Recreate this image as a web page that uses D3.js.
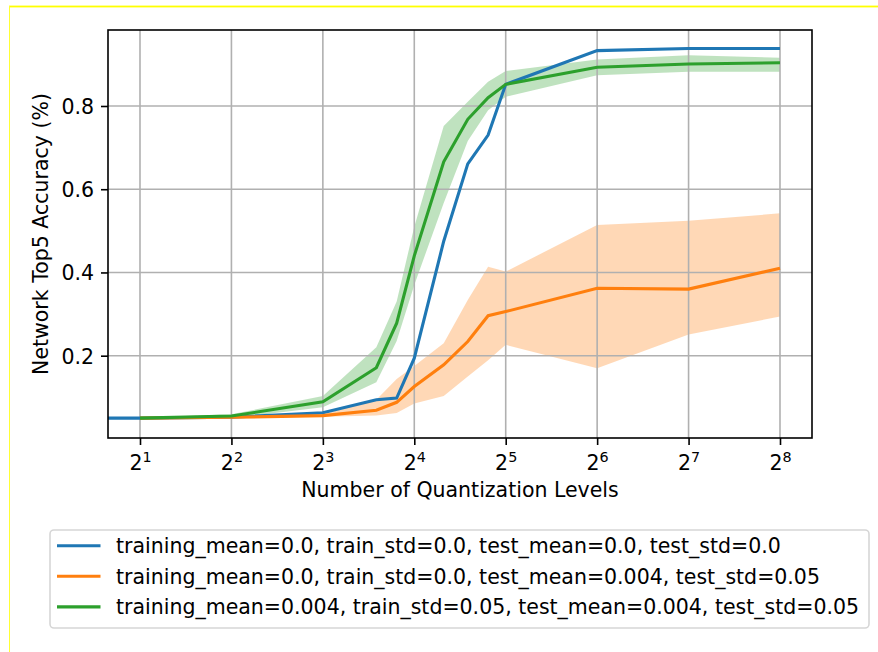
<!DOCTYPE html>
<html>
<head>
<meta charset="utf-8">
<script src="https://cdn.jsdelivr.net/npm/d3@7"></script>
<style>
  html, body { margin: 0; padding: 0; background: #ffffff; }
  svg { display: block; }
  text { font-family: "DejaVu Sans", sans-serif; fill: #000; }
</style>
</head>
<body>
<svg id="chart" width="878" height="652"></svg>
<script>
// Quantization levels (x values, log2 axis)
const levels = [2, 4, 8, 12, 14, 16, 20, 24, 28, 32, 64, 128, 256];
// Blue run also has a point at 1 level (left of the visible range)
const blueLevels = [1, 2, 4, 8, 12, 14, 16, 20, 24, 28, 32, 64, 128, 256];

// Top-5 accuracy per configuration
const blueMean = [0.05, 0.05, 0.052, 0.063, 0.094, 0.098, 0.194, 0.475, 0.661, 0.730, 0.852, 0.933, 0.938, 0.938];

const orangeMean  = [0.05, 0.052, 0.056, 0.069, 0.088, 0.126, 0.178, 0.234, 0.296, 0.306, 0.362, 0.360, 0.410];
const orangeUpper = [0.051, 0.055, 0.059, 0.094, 0.144, 0.175, 0.230, 0.334, 0.414, 0.402, 0.514, 0.524, 0.542];
const orangeLower = [0.049, 0.050, 0.053, 0.056, 0.062, 0.085, 0.103, 0.150, 0.189, 0.226, 0.170, 0.251, 0.294];

const greenMean  = [0.05, 0.055, 0.089, 0.171, 0.278, 0.44, 0.666, 0.768, 0.820, 0.852, 0.893, 0.901, 0.904];
const greenUpper = [0.051, 0.059, 0.103, 0.220, 0.330, 0.51, 0.752, 0.810, 0.858, 0.884, 0.912, 0.922, 0.916];
const greenLower = [0.049, 0.050, 0.076, 0.136, 0.235, 0.37, 0.567, 0.716, 0.790, 0.822, 0.874, 0.882, 0.882];

const xTicks = [2, 4, 8, 16, 32, 64, 128, 256];
const yTicks = [0.2, 0.4, 0.6, 0.8];

const legendLabels = [
  "training_mean=0.0, train_std=0.0, test_mean=0.0, test_std=0.0",
  "training_mean=0.0, train_std=0.0, test_mean=0.004, test_std=0.05",
  "training_mean=0.004, train_std=0.05, test_mean=0.004, test_std=0.05"
];
const colors = ["#1f77b4", "#ff7f0e", "#2ca02c"];

const FS = 20.5;
const plot = { left: 108, top: 30, right: 812, bottom: 438 };

const svg = d3.select("#chart");
svg.append("rect").attr("width", 878).attr("height", 652).attr("fill", "#ffffff");

// page edge marks
svg.append("rect").attr("x", 9).attr("y", 5.6).attr("width", 869).attr("height", 1.8).attr("fill", "#ffff00");
svg.append("rect").attr("x", 9).attr("y", 6).attr("width", 1).attr("height", 646).attr("fill", "#ffff33");

const x = d3.scaleLog().base(2)
  .domain([Math.pow(2, 0.65), Math.pow(2, 8.35)])
  .range([plot.left, plot.right]);
const y = d3.scaleLinear()
  .domain([0.0022, 0.9826])
  .range([plot.bottom, plot.top]);

svg.append("clipPath").attr("id", "plotClip")
  .append("rect")
  .attr("x", plot.left).attr("y", plot.top)
  .attr("width", plot.right - plot.left).attr("height", plot.bottom - plot.top);

const body = svg.append("g").attr("clip-path", "url(#plotClip)");

// shaded spread bands
const area = d3.area()
  .x(d => x(d.level))
  .y0(d => y(d.lo))
  .y1(d => y(d.hi));

const bands = [
  { color: colors[1], hi: orangeUpper, lo: orangeLower },
  { color: colors[2], hi: greenUpper, lo: greenLower }
];
bands.forEach(b => {
  const pts = levels.map((lv, i) => ({ level: lv, hi: b.hi[i], lo: b.lo[i] }));
  body.append("path")
    .datum(pts)
    .attr("d", area)
    .attr("fill", b.color)
    .attr("fill-opacity", 0.3)
    .attr("stroke", "none");
});

// grid
const grid = body.append("g");
xTicks.forEach(t => {
  grid.append("line")
    .attr("x1", x(t)).attr("x2", x(t))
    .attr("y1", plot.top).attr("y2", plot.bottom)
    .attr("stroke", "#b0b0b0").attr("stroke-width", 1.6);
});
yTicks.forEach(t => {
  grid.append("line")
    .attr("x1", plot.left).attr("x2", plot.right)
    .attr("y1", y(t)).attr("y2", y(t))
    .attr("stroke", "#b0b0b0").attr("stroke-width", 1.6);
});

// mean lines
const line = d3.line().x(d => x(d.level)).y(d => y(d.v));
const series = [
  { color: colors[0], lv: blueLevels, v: blueMean },
  { color: colors[1], lv: levels, v: orangeMean },
  { color: colors[2], lv: levels, v: greenMean }
];
series.forEach(s => {
  body.append("path")
    .datum(s.lv.map((lv, i) => ({ level: lv, v: s.v[i] })))
    .attr("d", line)
    .attr("fill", "none")
    .attr("stroke", s.color)
    .attr("stroke-width", 3.1)
    .attr("stroke-linejoin", "miter")
    .attr("stroke-linecap", "butt");
});

// axes
const xAxis = svg.append("g")
  .attr("transform", `translate(0,${plot.bottom})`)
  .call(d3.axisBottom(x).tickValues(xTicks).tickSize(7).tickSizeOuter(0).tickPadding(7).tickFormat(""));
xAxis.select(".domain").remove();
xAxis.selectAll(".tick line").attr("stroke", "#000").attr("stroke-width", 1.6);
xAxis.selectAll(".tick text").remove();
xAxis.selectAll(".tick").each(function(d) {
  const t = d3.select(this).append("text")
    .attr("x", 0).attr("y", 32)
    .attr("text-anchor", "middle")
    .style("font-size", FS + "px");
  t.append("tspan").text("2");
  t.append("tspan")
    .attr("dy", -8.5)
    .style("font-size", (FS * 0.7) + "px")
    .text(String(Math.round(Math.log2(d))));
});

const yAxis = svg.append("g")
  .attr("transform", `translate(${plot.left},0)`)
  .call(d3.axisLeft(y).tickValues(yTicks).tickSize(7).tickSizeOuter(0).tickPadding(7).tickFormat(d3.format(".1f")));
yAxis.select(".domain").remove();
yAxis.selectAll(".tick line").attr("stroke", "#000").attr("stroke-width", 1.6);
yAxis.selectAll(".tick text")
  .attr("dy", "0.36em")
  .style("font-size", FS + "px")
  .style("font-family", "DejaVu Sans")
  .attr("fill", "#000");

// frame
svg.append("rect")
  .attr("x", plot.left).attr("y", plot.top)
  .attr("width", plot.right - plot.left).attr("height", plot.bottom - plot.top)
  .attr("fill", "none").attr("stroke", "#000").attr("stroke-width", 1.6);

// axis titles
svg.append("text")
  .attr("x", (plot.left + plot.right) / 2).attr("y", 497)
  .attr("text-anchor", "middle")
  .style("font-size", FS + "px")
  .text("Number of Quantization Levels");

svg.append("text")
  .attr("transform", `translate(48,${(plot.top + plot.bottom) / 2}) rotate(-90)`)
  .attr("text-anchor", "middle")
  .style("font-size", FS + "px")
  .text("Network Top5 Accuracy (%)");

// legend
const lg = svg.append("g");
lg.append("rect")
  .attr("x", 50).attr("y", 530).attr("width", 819).attr("height", 98)
  .attr("rx", 4).attr("ry", 4)
  .attr("fill", "#ffffff").attr("fill-opacity", 0.8)
  .attr("stroke", "#d6d6d6").attr("stroke-width", 1.6);
legendLabels.forEach((lab, i) => {
  const cy = 545.7 + i * 30.6;
  lg.append("line")
    .attr("x1", 57).attr("x2", 100.5)
    .attr("y1", cy).attr("y2", cy)
    .attr("stroke", colors[i]).attr("stroke-width", 3.1);
  lg.append("text")
    .attr("x", 116).attr("y", cy + 7.4)
    .style("font-size", FS + "px")
    .text(lab);
});
</script>
</body>
</html>
